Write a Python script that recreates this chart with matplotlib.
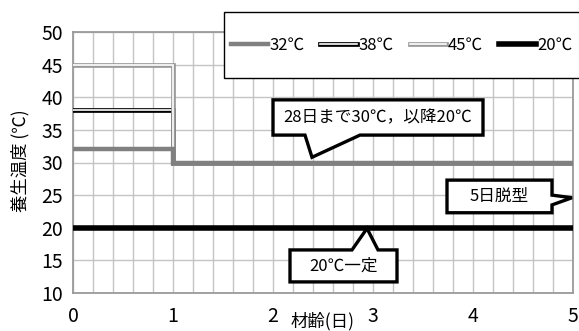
import matplotlib
matplotlib.use("Agg")
import matplotlib.pyplot as plt
import matplotlib.patheffects as pe
from matplotlib.patches import Polygon, Rectangle
from matplotlib.ticker import MultipleLocator

plt.rcParams["font.family"] = ["Noto Sans CJK JP", "DejaVu Sans"]

# ---- data: curing temperature history (step at day 1) ----
days = [0, 1, 1, 5]
t32 = [32, 32, 30, 30]
t38 = [38, 38, 30, 30]
t45 = [45, 45, 30, 30]
t20 = [20, 20, 20, 20]
series_labels = ["32℃", "38℃", "45℃", "20℃"]

W, H = 579, 331
fig = plt.figure(figsize=(W / 100, H / 100), dpi=100)
ax = fig.add_axes([73 / W, 1 - 293 / H, 500 / W, 261 / H])

def dbl(col):
    # white core with coloured outline -> "double line" look
    return [pe.Stroke(linewidth=3.4, foreground=col), pe.Normal()]

GRAY = "#808080"
l38, = ax.plot(days, t38, color="white", lw=1.2, path_effects=dbl("black"),
               solid_joinstyle="miter", zorder=3)
l45, = ax.plot(days, t45, color="white", lw=1.2, path_effects=dbl("#9a9a9a"),
               solid_joinstyle="miter", zorder=3)
l32, = ax.plot(days, t32, color=GRAY, lw=3.2, solid_joinstyle="miter", zorder=4)
l20, = ax.plot(days, t20, color="black", lw=4.0, zorder=4)

ax.set_xlim(0, 5)
ax.set_ylim(10, 50)
ax.xaxis.set_major_locator(MultipleLocator(1))
ax.xaxis.set_minor_locator(MultipleLocator(0.2))
ax.yaxis.set_major_locator(MultipleLocator(5))
ax.grid(axis="x", which="both", color="#c4c4c4", lw=1.0, zorder=0)
ax.grid(axis="y", which="major", color="#c4c4c4", lw=1.0, zorder=0)
ax.set_axisbelow(True)
for sp in ax.spines.values():
    sp.set_color("#9a9a9a"); sp.set_linewidth(1.3)
ax.tick_params(which="both", length=0, labelsize=14)
ax.tick_params(axis="x", pad=9)
ax.tick_params(axis="y", pad=7)

# x label sits between the "2" and "3" tick labels, kept inside the canvas
ax.set_xlabel("材齢(日)", fontsize=12.5, va="bottom")
ax.xaxis.set_label_coords(0.5, -(330 - 293) / 261)
ax.set_ylabel("養生温度 (℃)", fontsize=12.5, va="center")
ax.yaxis.set_label_coords(-0.106, 0.506)

# ---- callouts (box + pointer) ----
def callout(x0, x1, y0, y1, pts, text, side):
    pa, pb, tip = pts
    if side == "bottom":
        poly = [(x0, y1), (x1, y1), (x1, y0), (pb, y0), tip, (pa, y0), (x0, y0)]
    elif side == "top":
        poly = [(x0, y0), (x0, y1), (pa, y1), tip, (pb, y1), (x1, y1), (x1, y0)]
    else:  # right
        poly = [(x0, y0), (x0, y1), (x1, y1), (x1, pa), tip, (x1, pb), (x1, y0)]
    ax.add_patch(Polygon(poly, closed=True, facecolor="white", edgecolor="black",
                         lw=2.4, joinstyle="miter", zorder=6, clip_on=False))
    ax.text((x0 + x1) / 2, (y0 + y1) / 2, text, ha="center", va="center",
            fontsize=12, zorder=7)

callout(2.0, 4.1, 34.2, 39.6, (2.32, 2.87, (2.39, 30.8)), "28日まで30℃，以降20℃", "bottom")
callout(3.74, 4.79, 22.3, 27.3, (25.0, 23.5, (4.99, 24.6)), "5日脱型", "right")
callout(2.17, 3.24, 11.7, 16.6, (2.79, 3.05, (2.94, 19.9)), "20℃一定", "top")

# ---- legend frame + entries ----
fig.patches.append(Rectangle((224 / W, 1 - 78 / H), 400 / W, 66 / H,
                             transform=fig.transFigure, facecolor="white",
                             edgecolor="black", lw=1.0, zorder=2))
handles = [l32, l38, l45, l20]
fig.legend(handles, series_labels, loc="center left",
           bbox_to_anchor=(231 / W, 1 - 45 / H), ncol=4, frameon=False,
           fontsize=12, handlelength=2.2, handletextpad=0.1, columnspacing=0.95,
           borderaxespad=0, borderpad=0)

fig.savefig("out.png", dpi=100, facecolor="white")
